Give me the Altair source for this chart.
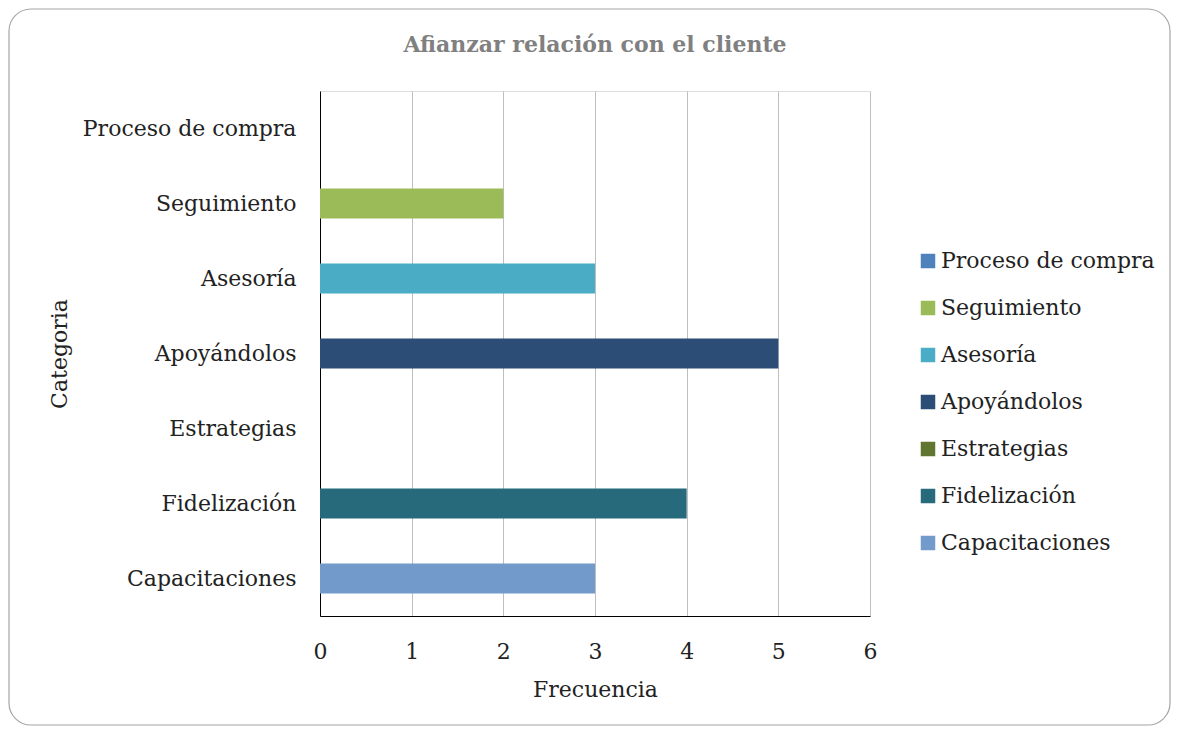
import altair as alt
import pandas as pd

title_text = "Afianzar relación  con el cliente"
categories = ["Proceso de compra", "Seguimiento", "Asesoría", "Apoyándolos",
              "Estrategias", "Fidelización", "Capacitaciones"]
values = [0, 2, 3, 5, 0, 4, 3]
colors = ["#4F81BD", "#9BBB59", "#4BACC6", "#2C4D75", "#5F7530", "#276A7C", "#729ACA"]
x_ticks = [0, 1, 2, 3, 4, 5, 6]

FONT = "DejaVu Serif"
FS = 22
df = pd.DataFrame({"Categoria": categories, "Frecuencia": values})

W, H = 550, 525

bars = alt.Chart(df).mark_bar(size=30).encode(
    y=alt.Y("Categoria:N", sort=categories,
            scale=alt.Scale(paddingInner=0, paddingOuter=0),
            axis=alt.Axis(title="Categoria", ticks=False, labelPadding=24,
                          labelFontSize=FS, labelFont=FONT, labelColor="#222222",
                          labelLimit=400,
                          titleFont=FONT, titleFontSize=FS, titleFontWeight="normal",
                          titleColor="#222222", titleX=-249, titleY=H / 2,
                          domainColor="#000000", domainWidth=1, grid=False)),
    x=alt.X("Frecuencia:Q", scale=alt.Scale(domain=[0, 6], nice=False),
            axis=alt.Axis(title="Frecuencia", values=x_ticks, ticks=False,
                          labelPadding=25, labelFontSize=FS, labelFont=FONT,
                          labelFlush=False,
                          labelColor="#222222", titleFont=FONT, titleFontSize=FS,
                          titleFontWeight="normal", titleColor="#222222",
                          titleY=63, domainColor="#000000", domainWidth=1,
                          grid=True, gridColor="#BFBFBF", gridWidth=1, format="d")),
    color=alt.Color("Categoria:N", sort=categories,
                    scale=alt.Scale(domain=categories, range=colors),
                    legend=alt.Legend(title=None, orient="none", legendX=597, legendY=159,
                                      symbolType="square", symbolSize=210,
                                      symbolStrokeWidth=0, labelFont=FONT,
                                      labelFontSize=FS, labelColor="#222222",
                                      labelLimit=400,
                                      rowPadding=25, labelOffset=2)),
)

frame = alt.Chart(pd.DataFrame({"f": [0]})).mark_rect(
    fill=None, stroke="#A6A6A6", strokeWidth=1.2, cornerRadius=22
).encode(x=alt.value(-311), x2=alt.value(850), y=alt.value(-82), y2=alt.value(634))

title = alt.Chart(pd.DataFrame({"t": [title_text]})).mark_text(
    font=FONT, fontSize=22, fontWeight="bold", color="#808080", baseline="middle"
).encode(x=alt.value(W / 2), y=alt.value(-46), text="t:N")

chart = alt.layer(frame, bars, title).properties(
    width=W, height=H, padding=0
).configure_view(stroke=None).configure(background="white")

chart.save("out.html", embed_options={"renderer": "svg", "actions": False})
